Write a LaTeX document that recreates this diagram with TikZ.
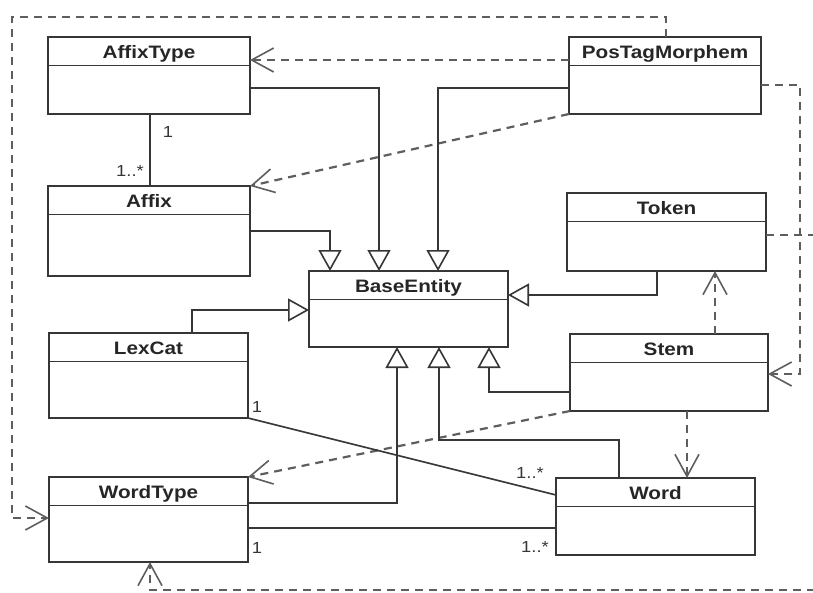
\documentclass[tikz,border=0pt]{standalone}
\usepackage{fontspec}
\setmainfont{Liberation Sans}
\usetikzlibrary{arrows.meta,calc}

\definecolor{umlline}{HTML}{363636}
\definecolor{umldash}{HTML}{5E5E5E}

\tikzset{
  classbox/.style={rectangle, draw=umlline, line width=2pt, fill=white, inner sep=0pt, outer sep=0pt},
  classtitle/.style={inner sep=0pt, anchor=base, text=umlline!70!black,
    font=\fontsize{18}{20}\selectfont\bfseries},
  divider/.style={draw=umlline, line width=1.8pt},
  inherit/.style={draw=umlline, line width=1.6pt,
    -{Triangle[open, length=21pt, width=23pt, fill=white]}},
  assoc/.style={draw=umlline, line width=1.6pt},
  depends/.style={draw=umldash, line width=2.2pt, dash pattern=on 8pt off 6pt,
    -{Straight Barb[length=22pt, width=24pt, line width=1.6pt]}},
  mult/.style={inner sep=0pt, text=umlline, font=\fontsize{16}{18}\selectfont},
}

% a UML class: name, left, top, width, height, title
\newcommand\umlclass[6]{%
  \node[classbox, minimum width=#4pt, minimum height=#5pt, anchor=north west] (#1) at (#2,#3) {};
  \draw[divider] ([yshift=-28.5pt]#1.north west) -- ([yshift=-28.5pt]#1.north east);
  \node[classtitle] (#1-title) at ([yshift=-21pt]#1.north) {\scalebox{1.15}[1]{#6}};
}

\begin{document}
\begin{tikzpicture}[x=1pt,y=-1pt]
\useasboundingbox (0,0) rectangle (813,592);
\clip (0,0) rectangle (813,592);

% classes
\umlclass{affixtype}{48}{37}{202}{77}{AffixType}
\umlclass{affix}{48}{186}{202}{90}{Affix}
\umlclass{postag}{569}{37}{192}{77}{PosTagMorphem}
\umlclass{token}{567}{193}{199}{78}{Token}
\umlclass{baseentity}{309}{271}{199}{76}{BaseEntity}
\umlclass{lexcat}{49}{333}{199}{85}{LexCat}
\umlclass{wordtype}{49}{477}{199}{85}{WordType}
\umlclass{stem}{570}{334}{198}{77}{Stem}
\umlclass{word}{556}{478}{199}{77}{Word}

% routing points of the outer dependency lines
\coordinate (railtop) at (12,17);
\coordinate (railright) at (800,200);
\coordinate (railbottom) at (830,590);

% dependencies
\draw[depends] ([yshift=-23pt]postag.north west) -- ([yshift=-23pt]affixtype.north east);
\draw[depends] (postag.south west) -- (affix.north east);
\draw[depends] ([xshift=97pt]postag.north west) |- (railtop) |- ([yshift=-41pt]wordtype.north west);
\draw[depends] ([yshift=-48pt]postag.north east) -| (railright) |- ([yshift=-40pt]stem.north east);
\draw[depends] ([yshift=-42pt]token.north east) -| (railbottom) -| ([xshift=101pt]wordtype.south west);
\draw[depends] ([xshift=145pt]stem.north west) -- ([xshift=148pt]token.south west);
\draw[depends] ([xshift=117pt]stem.south west) -- ([xshift=131pt]word.north west);
\draw[depends] (stem.south west) -- (wordtype.north east);

% generalizations
\draw[inherit] ([yshift=-51pt]affixtype.north east) -| ([xshift=70pt]baseentity.north west);
\draw[inherit] ([yshift=-45pt]affix.north east) -| ([xshift=21pt]baseentity.north west);
\draw[inherit] ([yshift=-51pt]postag.north west) -| ([xshift=129pt]baseentity.north west);
\draw[inherit] ([xshift=90pt]token.south west) |- ([yshift=-24pt]baseentity.north east);
\draw[inherit] ([xshift=143pt]lexcat.north west) |- ([yshift=-39pt]baseentity.north west);
\draw[inherit] ([yshift=-26pt]wordtype.north east) -| ([xshift=88pt]baseentity.south west);
\draw[inherit] ([xshift=63pt]word.north west) -- ++(0,-38) -| ([xshift=130pt]baseentity.south west);
\draw[inherit] ([yshift=-58pt]stem.north west) -| ([xshift=180pt]baseentity.south west);

% associations
\draw[assoc] ([xshift=102pt]affixtype.south west) -- ([xshift=102pt]affix.north west);
\draw[assoc] (lexcat.south east) -- ([yshift=-17pt]word.north west);
\draw[assoc] ([yshift=-51pt]wordtype.north east) -- ([yshift=-50pt]word.north west);

% multiplicities
\node[mult] (m1) at (168,132) {\scalebox{1.15}[1]{1}};
\node[mult] (m2) at (130,171) {\scalebox{1.15}[1]{1..*}};
\node[mult] (m3) at (257,407) {\scalebox{1.15}[1]{1}};
\node[mult] (m4) at (530,473) {\scalebox{1.15}[1]{1..*}};
\node[mult] (m5) at (257,548) {\scalebox{1.15}[1]{1}};
\node[mult] (m6) at (535,547) {\scalebox{1.15}[1]{1..*}};
\end{tikzpicture}
\end{document}
